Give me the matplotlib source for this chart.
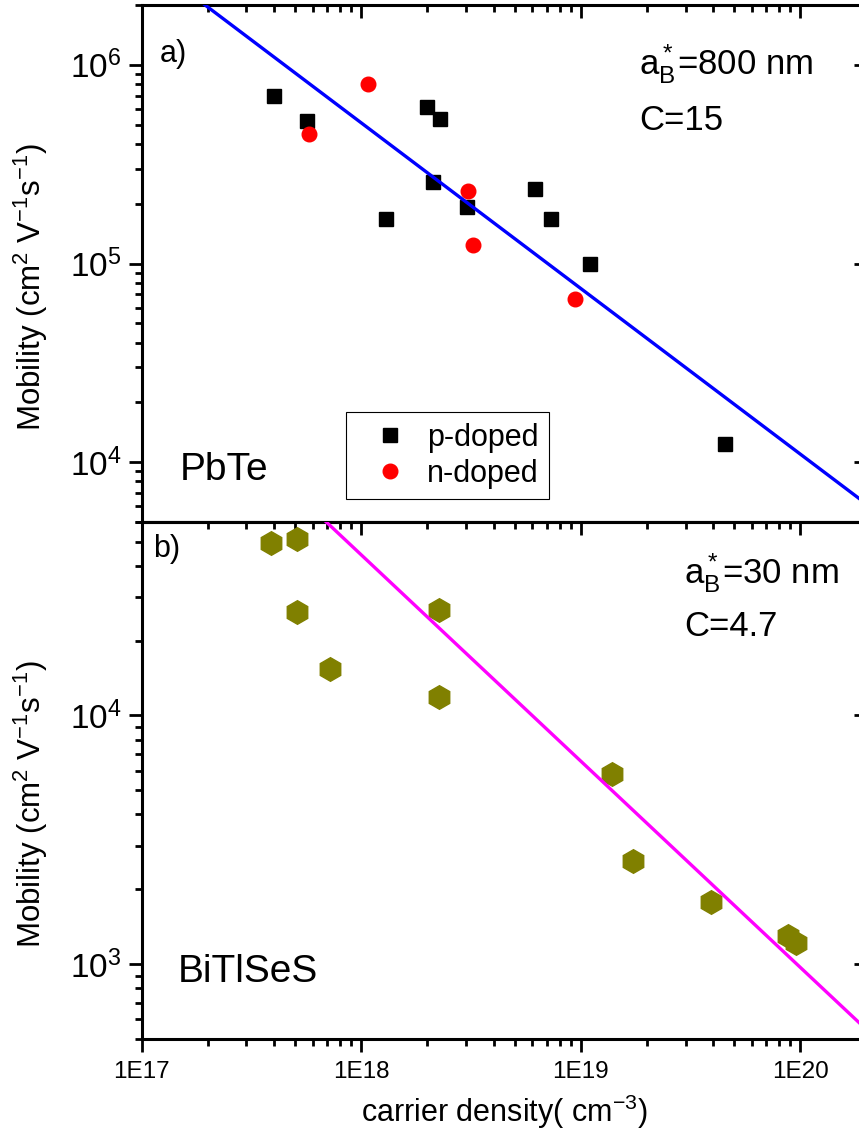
import numpy as np
import matplotlib
matplotlib.use("Agg")
import matplotlib.pyplot as plt
from matplotlib.ticker import LogLocator, NullFormatter, NullLocator

plt.rcParams['font.family'] = ['Liberation Sans', 'DejaVu Sans']
plt.rcParams['mathtext.fontset'] = 'custom'
plt.rcParams['mathtext.rm'] = 'Liberation Sans'
plt.rcParams['mathtext.it'] = 'Liberation Sans:italic'
plt.rcParams['mathtext.bf'] = 'Liberation Sans:bold'
plt.rcParams['axes.linewidth'] = 2.2

# --- PbTe ---
p_density = [4.01e17, 5.65e17, 1.29e18, 1.99e18, 2.28e18, 2.12e18, 3.03e18,
             6.18e18, 7.31e18, 1.10e19, 4.54e19]
p_mobility = [7.0e5, 5.22e5, 1.67e5, 6.14e5, 5.35e5, 2.57e5, 1.92e5,
              2.37e5, 1.67e5, 1.0e5, 1.24e4]
n_density = [1.07e18, 5.77e17, 3.06e18, 3.23e18, 9.42e18]
n_mobility = [8.02e5, 4.49e5, 2.32e5, 1.24e5, 6.6e4]
pbte_fit_x = [1e17, 2e20]
pbte_fit_y = [3.48e6, 6.15e3]

# --- BiTlSeS ---
bts_density = [3.86e17, 5.08e17, 5.08e17, 7.21e17, 2.26e18, 2.26e18,
               1.39e19, 1.73e19, 3.91e19, 8.79e19, 9.57e19]
bts_mobility = [4.92e4, 5.13e4, 2.61e4, 1.54e4, 2.66e4, 1.19e4,
                5.82e3, 2.59e3, 1.77e3, 1.30e3, 1.22e3]
bts_fit_x = [1e17, 2e20]
bts_fit_y = [2.99e5, 545]

XLIM = (1e17, 2e20)
YLIM_A = (5e3, 2e6)
YLIM_B = (500, 6e4)
xtick_vals = [1e17, 1e18, 1e19, 1e20]
xtick_text = ["1E17", "1E18", "1E19", "1E20"]

fig = plt.figure(figsize=(8.59, 11.44), dpi=100)
L, R = 141.7 / 859, 866.6 / 859
ax1 = fig.add_axes([L, 1 - 522 / 1144, R - L, 517 / 1144])
ax2 = fig.add_axes([L, 1 - 1039 / 1144, R - L, 517 / 1144], sharex=ax1)

for ax, ylim in ((ax1, YLIM_A), (ax2, YLIM_B)):
    ax.set_xscale('log')
    ax.set_yscale('log')
    ax.set_xlim(*XLIM)
    ax.set_ylim(*ylim)
    ax.yaxis.set_major_locator(LogLocator(base=10, numticks=10))
    ax.yaxis.set_minor_locator(LogLocator(base=10, subs=np.arange(2, 10), numticks=30))
    ax.yaxis.set_minor_formatter(NullFormatter())
    ax.tick_params(axis='both', which='major', length=9.5, width=2)
    ax.tick_params(axis='both', which='minor', length=5, width=2)
    ax.tick_params(axis='y', which='both', direction='out', left=True, right=False,
                   labelsize=24, pad=5)
    # right axis: major ticks only, pointing inward
    sy = ax.secondary_yaxis('right')
    sy.yaxis.set_major_locator(LogLocator(base=10, numticks=10))
    sy.yaxis.set_minor_locator(NullLocator())
    sy.yaxis.set_major_formatter(NullFormatter())
    sy.tick_params(axis='y', direction='in', length=9.5, width=2)

ax1.xaxis.set_major_locator(LogLocator(base=10, numticks=10))
ax1.xaxis.set_minor_locator(LogLocator(base=10, subs=np.arange(2, 10), numticks=30))
ax1.xaxis.set_minor_formatter(NullFormatter())
ax2.set_xticks(xtick_vals)
ax2.set_xticklabels(xtick_text)

ax1.tick_params(axis='x', which='both', direction='in', top=True, bottom=False,
                labelbottom=False, labeltop=False)
ax2.tick_params(axis='x', which='both', direction='out', top=False, bottom=True,
                labelsize=17.5, pad=6)

# top edge of the lower panel: ticks pointing down into it
sx = ax2.secondary_xaxis('top')
sx.xaxis.set_major_locator(LogLocator(base=10, numticks=10))
sx.xaxis.set_minor_locator(LogLocator(base=10, subs=np.arange(2, 10), numticks=30))
sx.xaxis.set_major_formatter(NullFormatter())
sx.xaxis.set_minor_formatter(NullFormatter())
sx.tick_params(axis='x', which='major', direction='in', length=9.5, width=2)
sx.tick_params(axis='x', which='minor', direction='in', length=5, width=2)

# panel a: PbTe
ax1.plot(p_density, p_mobility, ls='none', marker='s', ms=10, color='black',
         mec='black', label='p-doped', zorder=3)
ax1.plot(n_density, n_mobility, ls='none', marker='o', ms=10.5, color='#FF0000',
         mec='#FF0000', label='n-doped', zorder=3)
ax1.plot(pbte_fit_x, pbte_fit_y, color='#0000FF', lw=2.4, zorder=4)

leg = ax1.legend(loc='upper left', bbox_to_anchor=(0.2818, 0.2128), borderaxespad=0,
                 fontsize=22, frameon=True, fancybox=False, framealpha=1,
                 edgecolor='black', handlelength=2.2, handletextpad=0.1,
                 labelspacing=0.2, borderpad=0.35)
leg.get_frame().set_linewidth(0.8)

ax1.text(0.025, 0.8897, 'a)', transform=ax1.transAxes, fontsize=22, va='baseline')
ax1.text(0.686, 0.8665, r'$\mathregular{a_B^*}$=800 nm', transform=ax1.transAxes,
         fontsize=25, va='baseline')
ax1.text(0.686, 0.7582, 'C=15', transform=ax1.transAxes, fontsize=25, va='baseline')
ax1.text(0.0529, 0.0812, 'PbTe', transform=ax1.transAxes, fontsize=28, va='baseline')

# panel b: BiTlSeS
ax2.plot(bts_density, bts_mobility, ls='none', marker='h', ms=17, color='#808000',
         mec='#808000', zorder=3)
ax2.plot(bts_fit_x, bts_fit_y, color='#FF00FF', lw=2.4, zorder=4)

ax2.text(0.0163, 0.932, 'b)', transform=ax2.transAxes, fontsize=22, va='baseline')
ax2.text(0.748, 0.8814, r'$\mathregular{a_B^*}$=30 nm', transform=ax2.transAxes,
         fontsize=25, va='baseline')
ax2.text(0.748, 0.7795, 'C=4.7', transform=ax2.transAxes, fontsize=25, va='baseline')
ax2.text(0.050, 0.1093, 'BiTlSeS', transform=ax2.transAxes, fontsize=28, va='baseline')

ylab = r'Mobility (cm$^{2}$ V$^{-1}$s$^{-1}$)'
for ax in (ax1, ax2):
    ax.set_ylabel(ylab, fontsize=22.5)
    ax.yaxis.set_label_coords(-0.126, 0.455)

ax2.set_xlabel(r'carrier density( cm$^{-3}$)', fontsize=22)
ax2.xaxis.set_label_coords(0.5, -0.103)

fig.savefig('out.png', dpi=100)
